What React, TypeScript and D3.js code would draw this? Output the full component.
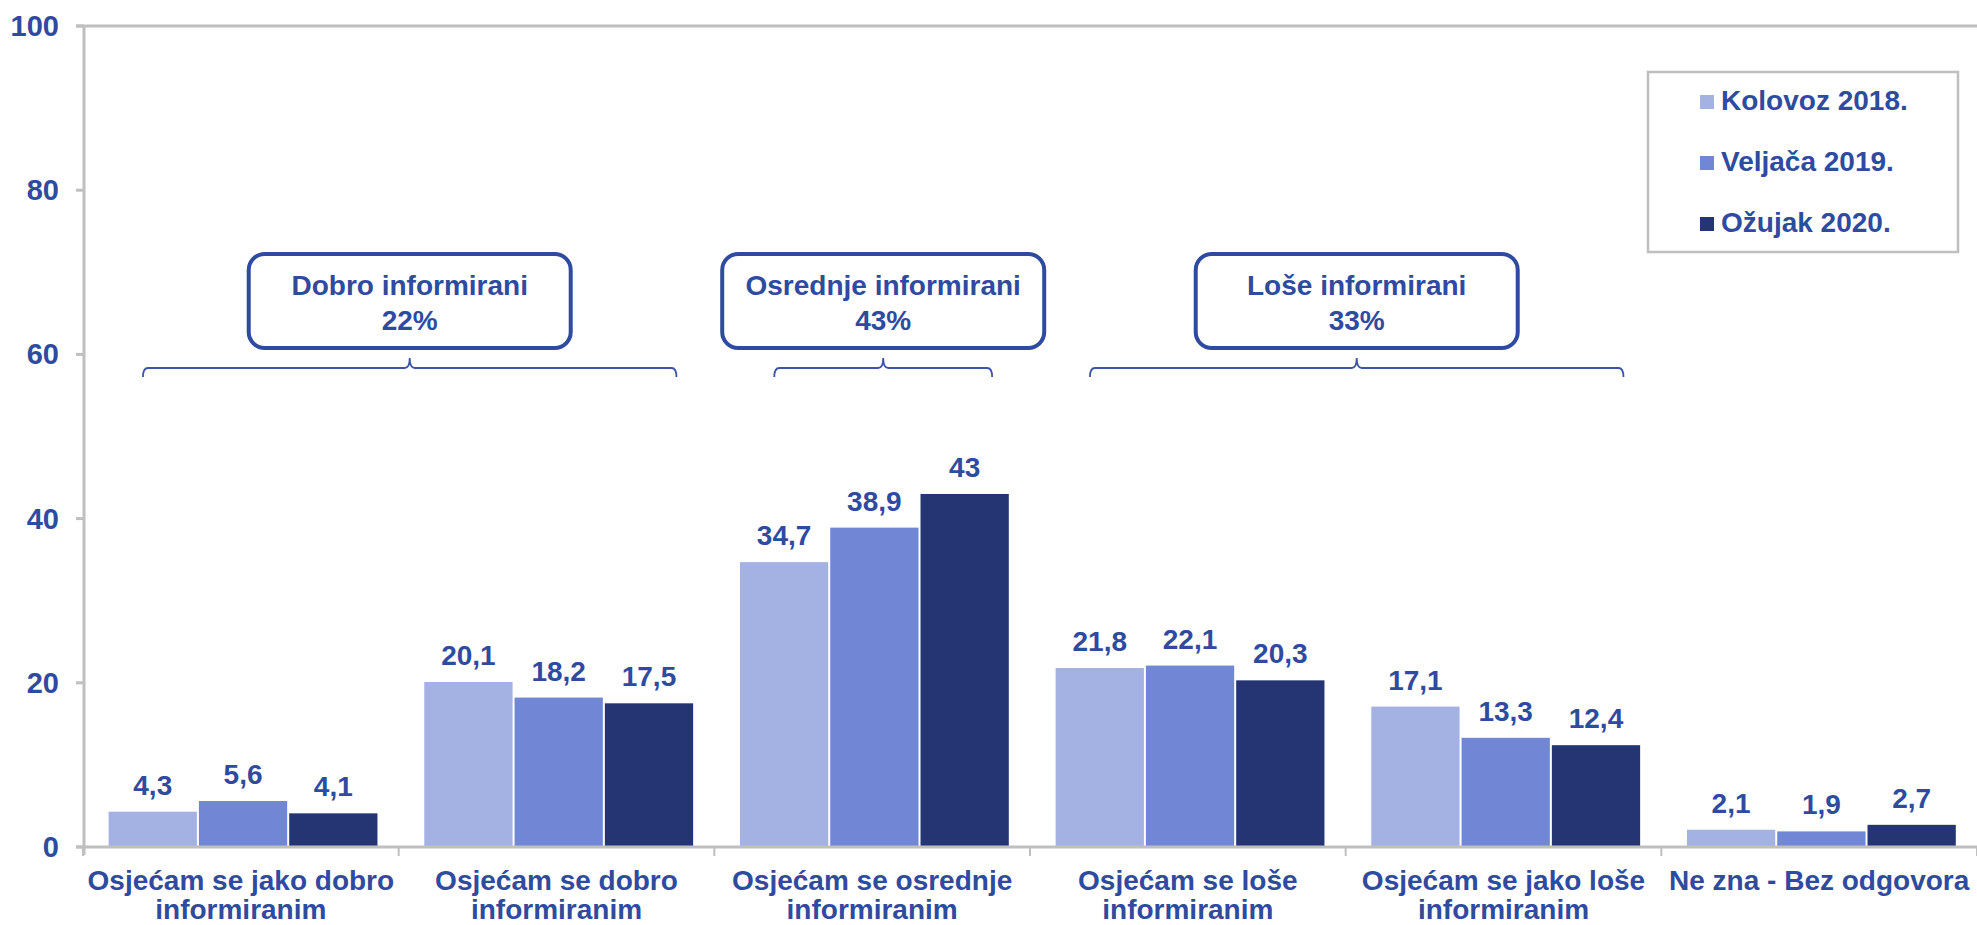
import React from "react";
import * as d3 from "d3";

// categories (two lines each, as in the original)
const categories = [
  ["Osjećam se jako dobro", "informiranim"],
  ["Osjećam se dobro", "informiranim"],
  ["Osjećam se osrednje", "informiranim"],
  ["Osjećam se loše", "informiranim"],
  ["Osjećam se jako loše", "informiranim"],
  ["Ne zna - Bez odgovora"],
];

const seriesNames = ["Kolovoz 2018.", "Veljača 2019.", "Ožujak 2020."];
const seriesColors = ["#A3B1E3", "#7187D5", "#253574"];

const kolovoz2018 = [4.3, 20.1, 34.7, 21.8, 17.1, 2.1];
const veljaca2019 = [5.6, 18.2, 38.9, 22.1, 13.3, 1.9];
const ozujak2020 = [4.1, 17.5, 43, 20.3, 12.4, 2.7];
const seriesValues = [kolovoz2018, veljaca2019, ozujak2020];

const yTicks = [0, 20, 40, 60, 80, 100];

// grouped annotations: title, share, first and last category covered
const groupTitles = ["Dobro informirani", "Osrednje informirani", "Loše informirani"];
const groupShares = ["22%", "43%", "33%"];
const groupSpans = [
  [0, 1],
  [2, 2],
  [3, 4],
];

const W = 1977;
const H = 925;
const TEXT = "#2F4BA0";
const AXIS = "#BFBFBF";
const FONT = "'Liberation Sans', Arial, sans-serif";

const fmt = (v: number) => String(v).replace(".", ",");

const bracePath = (x1: number, x2: number, y: number) => {
  const mid = (x1 + x2) / 2;
  const p = d3.path();
  p.moveTo(x1, y + 9);
  p.quadraticCurveTo(x1, y, x1 + 5, y);
  p.lineTo(mid - 5, y);
  p.quadraticCurveTo(mid, y, mid, y - 10);
  p.quadraticCurveTo(mid, y, mid + 5, y);
  p.lineTo(x2 - 5, y);
  p.quadraticCurveTo(x2, y, x2, y + 9);
  return p.toString();
};

export default function App() {
  const y = d3.scaleLinear().domain([0, 100]).range([847, 26]);
  const x0 = d3
    .scaleBand<number>()
    .domain(d3.range(categories.length))
    .range([83, W])
    .padding(0);
  const bw = x0.bandwidth();
  const x1 = d3
    .scaleBand<number>()
    .domain(d3.range(seriesNames.length))
    .range([bw * 0.078, bw * 0.936])
    .padding(0);

  return (
    <svg
      width={W}
      height={H}
      style={{ position: "absolute", left: 0, top: 0, background: "#fff" }}
      fontFamily={FONT}
      fontWeight="bold"
    >
      {/* top frame line + y axis */}
      <line x1={76} x2={W} y1={y(100)} y2={y(100)} stroke={AXIS} strokeWidth={3} />
      <line x1={84} x2={84} y1={y(100)} y2={y(0) + 8} stroke={AXIS} strokeWidth={3} />
      {yTicks.map((t) => (
        <g key={t}>
          <line x1={76} x2={84} y1={y(t)} y2={y(t)} stroke={AXIS} strokeWidth={3} />
          <text
            x={59}
            y={y(t)}
            textAnchor="end"
            dominantBaseline="central"
            fontSize={29}
            fill={TEXT}
          >
            {t}
          </text>
        </g>
      ))}

      {/* bars */}
      {categories.map((_, ci) => (
        <g key={ci} transform={`translate(${x0(ci)},0)`}>
          {seriesValues.map((vals, si) => {
            const v = vals[ci];
            const bx = x1(si)! + 1;
            const bwid = x1.bandwidth() - 2;
            return (
              <g key={si}>
                <rect
                  x={bx}
                  y={y(v)}
                  width={bwid}
                  height={y(0) - y(v)}
                  fill={seriesColors[si]}
                />
                <text
                  x={bx + bwid / 2}
                  y={y(v) - 17}
                  textAnchor="middle"
                  fontSize={28}
                  fill={TEXT}
                >
                  {fmt(v)}
                </text>
              </g>
            );
          })}
        </g>
      ))}

      {/* x axis */}
      <line x1={76} x2={W} y1={y(0)} y2={y(0)} stroke={AXIS} strokeWidth={3} />
      {d3.range(categories.length + 1).map((i) => {
        const xx = i < categories.length ? x0(i)! : W;
        return (
          <line key={i} x1={xx} x2={xx} y1={y(0)} y2={y(0) + 9} stroke={AXIS} strokeWidth={2} />
        );
      })}
      {categories.map((lines, ci) => (
        <text
          key={ci}
          x={x0(ci)! + bw / 2}
          y={890}
          textAnchor="middle"
          fontSize={28}
          fill={TEXT}
        >
          {lines.map((l, li) => (
            <tspan key={li} x={x0(ci)! + bw / 2} dy={li === 0 ? 0 : 29}>
              {l}
            </tspan>
          ))}
        </text>
      ))}

      {/* group annotations */}
      {groupTitles.map((title, gi) => {
        const [a, b] = groupSpans[gi];
        const bx1 = x0(a)! + bw * 0.19;
        const bx2 = x0(b)! + bw * 0.88;
        const cx = (bx1 + bx2) / 2;
        const boxW = 322;
        return (
          <g key={gi}>
            <path d={bracePath(bx1, bx2, 368)} fill="none" stroke="#3A54A8" strokeWidth={1.8} />
            <rect
              x={cx - boxW / 2}
              y={254}
              width={boxW}
              height={94}
              rx={16}
              fill="#fff"
              stroke={TEXT}
              strokeWidth={4}
            />
            <text x={cx} y={295} textAnchor="middle" fontSize={28} fill={TEXT}>
              {title}
            </text>
            <text x={cx} y={330} textAnchor="middle" fontSize={28} fill={TEXT}>
              {groupShares[gi]}
            </text>
          </g>
        );
      })}

      {/* legend */}
      <rect x={1648} y={72} width={310} height={180} fill="#fff" stroke={AXIS} strokeWidth={2.5} />
      {seriesNames.map((name, si) => (
        <g key={si} transform={`translate(1700,${110 + si * 61})`}>
          <rect x={0} y={-15} width={14} height={14} fill={seriesColors[si]} />
          <text x={21} y={0} fontSize={28} fill={TEXT}>
            {name}
          </text>
        </g>
      ))}
    </svg>
  );
}
